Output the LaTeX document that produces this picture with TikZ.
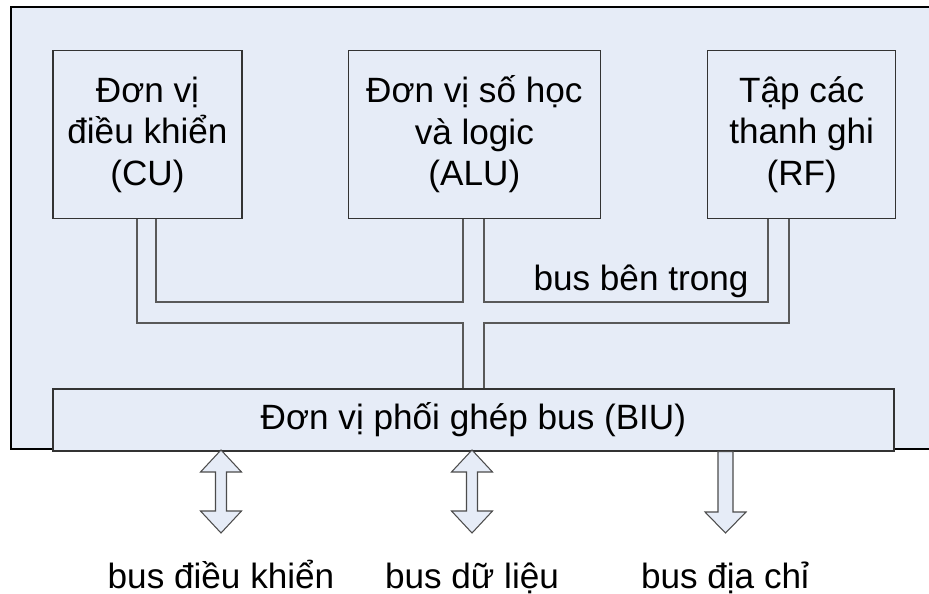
\documentclass[tikz,border=0pt]{standalone}
\usepackage{fontspec}
\setmainfont{Liberation Sans}
\usetikzlibrary{positioning}

\definecolor{cpufill}{RGB}{230,236,247}

\tikzset{
  unit/.style = {draw=black!80, fill=cpufill, line width=0.8pt, align=center, inner sep=0pt},
  busline/.style = {draw=black!65, line width=0.8pt},
  fatarrow/.style = {draw=black!70, fill=cpufill, line width=0.6pt, line join=miter},
}

\begin{document}
\begin{tikzpicture}[x=0.02cm, y=-0.02cm, font=\fontsize{20}{23.6}\selectfont]
  \clip (0,0) rectangle (929,594);
  \fill[white] (0,0) rectangle (929,594);
  % CPU frame (right side runs off the picture)
  \draw[line width=1.1pt, fill=cpufill] (11,7) rectangle (960,449);

  \node[unit, minimum width=3.78cm, minimum height=3.36cm] (cu) at (147.5,134.5)
    {Đơn vị\\điều khiển\\(CU)};
  \node[unit, minimum width=5.04cm, minimum height=3.36cm] (alu) [right=2.1cm of cu]
    {Đơn vị số học\\và logic\\(ALU)};
  \node[unit, minimum width=3.76cm, minimum height=3.36cm] (rf) [right=2.12cm of alu]
    {Tập các\\thanh ghi\\(RF)};
  \node[unit, minimum width=16.82cm, minimum height=1.24cm] (biu)
    [below=3.38cm of cu.south west, anchor=north west]
    {Đơn vị phối ghép bus (BIU)};

  % internal bus
  \draw[busline] (137,0 |- cu.south) |- (463,323) -- (463,0 |- biu.north);
  \draw[busline] (156,0 |- cu.south) |- (463,302) -- (463,0 |- alu.south);
  \draw[busline] (484,0 |- alu.south) |- (768,302) -- (768,0 |- rf.south);
  \draw[busline] (789,0 |- rf.south) |- (484,323) -- (484,0 |- biu.north);
  \node[anchor=base] (internal) at (641,291) {bus bên trong};

  % external buses
  \foreach \bx in {221,472}
    \draw[fatarrow] (\bx,450) -- (\bx+20.5,472) -- (\bx+5.5,472) -- (\bx+5.5,511)
      -- (\bx+20.5,511) -- (\bx,533) -- (\bx-20.5,511) -- (\bx-5.5,511)
      -- (\bx-5.5,472) -- (\bx-20.5,472) -- cycle;
  \draw[fatarrow] (718,0 |- biu.south) -- (733,0 |- biu.south) -- (733,512) -- (746,512)
    -- (725.5,533) -- (705,512) -- (718,512) -- cycle;

  \node[anchor=base] (ctrl) at (221,588) {bus điều khiển};
  \node[anchor=base] (data) at (472,588) {bus dữ liệu};
  \node[anchor=base] (addr) at (725,588) {bus địa chỉ};
\end{tikzpicture}
\end{document}
